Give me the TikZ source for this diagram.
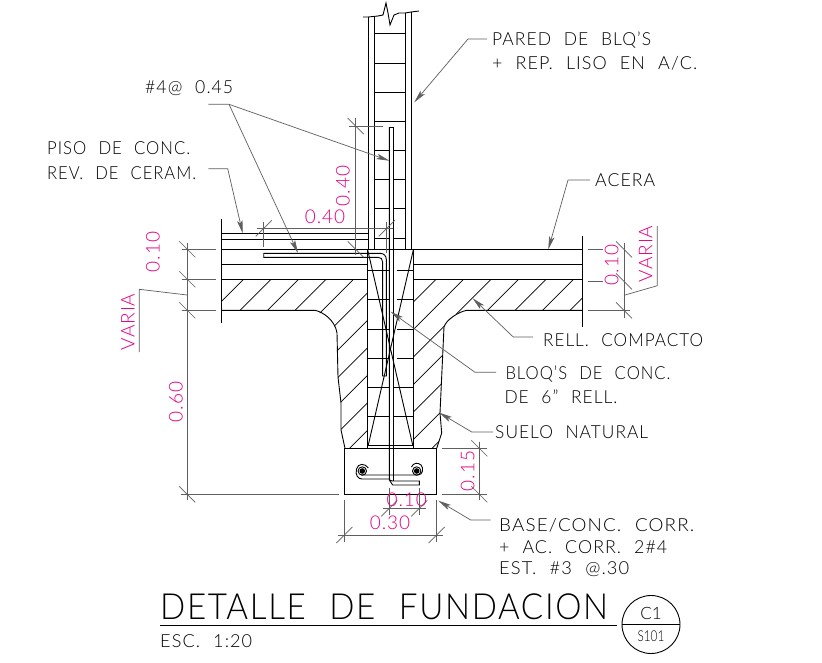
\documentclass[tikz,border=0pt]{standalone}
\usepackage{fontspec}
\usepackage{graphicx}
\setmainfont{Lato Light}[WordSpace=2.2]
\usetikzlibrary{arrows.meta}
\definecolor{pinkdim}{RGB}{230,0,126}
\definecolor{leadgray}{RGB}{95,95,95}
\newcommand{\ft}[2]{\resizebox{#1pt}{\height}{#2}}
\tikzset{
 obj/.style={line width=0.9pt,black},
 thin obj/.style={line width=0.7pt,black},
 dimline/.style={line width=0.7pt,leadgray},
 leader/.style={line width=0.7pt,leadgray,-{Stealth[length=13pt,width=5.5pt,inset=3pt]}},
 note/.style={anchor=west,inner sep=0pt,font=\fontsize{18}{18}\selectfont\addfontfeatures{LetterSpace=6},text=black},
 dimtext/.style={inner sep=0pt,font=\fontsize{19}{19}\selectfont\addfontfeatures{LetterSpace=5},text=pinkdim},
}
\newcommand{\tickback}[2]{\draw[dimline] (#1-8,#2-8) -- (#1+8,#2+8);}
\newcommand{\tickfwd}[2]{\draw[dimline] (#1-8,#2+8) -- (#1+8,#2-8);}
\begin{document}
\begin{tikzpicture}[x=1pt,y=-1pt]
\useasboundingbox (0,0) rectangle (822,662);
\fill[white] (0,0) rectangle (822,662);
% hatching
\begin{scope}
\clip (222,279.3) -- (367.3,279.3) -- (367.3,448.3) -- (345,448.3) -- (341,430) -- (341,403) -- (338,377) -- (337,333) -- (333,323) -- (323,315) -- (315,310.3) -- (222,310.3) -- cycle;
\foreach \s in {522.8,550.3,...,830} {\draw[thin obj] (\s-250,250) -- (\s-450,450);}
\end{scope}
\begin{scope}
\clip (413.3,279.3) -- (582.7,279.3) -- (582.7,310.3) -- (466.7,310.3) -- (453,315) -- (445,323) -- (444,327) -- (440,413) -- (441.7,433) -- (436.7,448.3) -- (413.3,448.3) -- cycle;
\foreach \s in {660.3,687.8,...,900} {\draw[thin obj] (\s-250,250) -- (\s-450,450);}
\end{scope}
% slab
\draw[obj] (221.7,219) -- (221.7,323);
\draw[obj] (582.7,236) -- (582.7,326.7);
\draw[obj] (221.7,233.3) -- (368.3,233.3);
\draw[obj] (221.7,239.3) -- (368.3,239.3);
\draw[obj] (221.7,249.3) -- (582.7,249.3);
\draw[obj] (221.7,264.3) -- (367.3,264.3);
\draw[obj] (413.3,264.3) -- (582.7,264.3);
\draw[obj] (221.7,279.3) -- (367.3,279.3);
\draw[obj] (413.3,279.3) -- (582.7,279.3);
% soil outlines
\draw[obj] (221.7,310.3) -- (315,310.3) .. controls (323,312) and (335,320) .. (337,333) -- (338,377) -- (341,403) -- (341,430) -- (345,448.3);
\draw[obj] (582.7,310.3) -- (466.7,310.3) .. controls (458,312) and (446,320) .. (444,327) -- (440,413) -- (441.7,433) -- (436.7,448.3);
% wall above
\draw[obj] (363,17) -- (368,17) -- (378,16) -- (383,15) -- (386,3) -- (388,13) -- (390,25) -- (394,15) -- (399,13) -- (405,13) -- (411,12) -- (419,11);
\draw[obj] (368.3,17) -- (368.3,249.3);
\draw[obj] (374.3,16) -- (374.3,249.3);
\draw[obj] (405.3,13) -- (405.3,249.3);
\draw[obj] (411.3,12) -- (411.3,249.3);
\foreach \y in {33,63,92,121} {\draw[obj] (374.3,\y) -- (405.3,\y);}
\foreach \y in {150,179,208,238} {\draw[obj] (374.3,\y) -- (389.3,\y); \draw[obj] (393.3,\y) -- (405.3,\y);}
% wall below
\draw[obj] (367.3,249.3) -- (367.3,448.3);
\draw[obj] (413.3,249.3) -- (413.3,448.3);
\foreach \y in {270.7,299.3,329.3,358.3} {\draw[obj] (367.3,\y) -- (389.3,\y); \draw[obj] (396.7,\y) -- (413.3,\y);}
\foreach \y in {387.3,416.7} {\draw[obj] (367.3,\y) -- (389.3,\y); \draw[obj] (393.3,\y) -- (413.3,\y);}
\draw[obj] (367.7,445) -- (413.3,445);
\draw[obj] (367.7,250) -- (412.7,445);
\draw[obj] (413.3,250) -- (368.3,445);
% footing
\draw[obj] (344.3,448.3) rectangle (436.7,494.3);
% vertical bars
\draw[obj] (389.3,127) -- (389.3,480) -- (392.7,481) -- (419.3,481) -- (419.3,485) -- (392.7,485) -- (389.3,480);
\draw[obj] (393.3,127) -- (393.3,481);
\draw[obj] (389.3,127) -- (393.3,127);
% L bar
\draw[obj] (263.7,253.3) -- (380,253.3) .. controls (384,253.3) and (386.4,256) .. (386.4,260) -- (386.4,376) -- (382.6,376) -- (382.6,262) .. controls (382.6,259) and (381,257.3) .. (378,257.3) -- (263.7,257.3) -- cycle;
% stirrup
\draw[obj] (368.3,468) .. controls (365,463) and (358,463) .. (356.5,469) .. controls (355,475) and (358,479) .. (362,479) -- (389,479);
\draw[obj] (361,475) -- (418,475) .. controls (423,475) and (424,468) .. (421,465) .. controls (418,462) and (413,463) .. (411.5,467);
\draw[obj] (362.3,471) circle (4.2);
\draw[obj] (416.7,471) circle (4.2);
\fill (362.3,471) circle (2.8);
\fill (416.7,471) circle (2.8);
% dimensions left
\draw[dimline] (187.3,243) -- (187.3,500);
\draw[dimline] (181.7,249.3) -- (216,249.3);
\draw[dimline] (181.7,279.3) -- (216,279.3);
\draw[dimline] (181.7,310.3) -- (216,310.3);
\draw[dimline] (181,494.3) -- (339,494.3);
\tickback{187.3}{249.3}\tickback{187.3}{279.3}\tickback{187.3}{310.3}\tickback{187.3}{494.3}
\draw[dimline] (187.3,295) -- (139.3,289.3) -- (139.3,352);
\node[dimtext,rotate=90] (d1) at (153,252) {0.10};
\node[dimtext,rotate=90] (d2) at (176,402) {0.60};
\node[dimtext,rotate=90] (d3) at (128,322) {VARIA};
% 0.40 horizontal
\draw[dimline] (257,228.3) -- (393,228.3);
\draw[dimline] (263.7,222) -- (263.7,247);
\draw[dimline] (386.7,222) -- (386.7,253);
\tickfwd{263.7}{228.3}\tickfwd{386.7}{228.3}
\node[dimtext] (d4) at (325,217) {0.40};
% 0.40 vertical
\draw[dimline] (355.7,118) -- (355.7,255);
\draw[dimline] (349,126) -- (383,126);
\tickback{355.7}{126}\tickback{355.7}{249.3}
\node[dimtext,rotate=90] (d5) at (343,186) {0.40};
% right
\draw[dimline] (624,243) -- (624,318);
\draw[dimline] (588,249.3) -- (603,249.3);
\draw[dimline] (588,281.3) -- (603,281.3);
\draw[dimline] (588,310.3) -- (630,310.3);
\tickback{624}{249.3}\tickback{624}{281.3}\tickback{624}{310.3}
\draw[dimline] (624,295.3) -- (657.3,285.7) -- (657.3,226);
\node[dimtext,rotate=90] (d6) at (611.7,265) {0.10};
\node[dimtext,rotate=90] (d7) at (645.7,254) {VARIA};
% bottom
\draw[dimline] (338,535) -- (443,535);
\draw[dimline] (344.3,500) -- (344.3,541.7);
\draw[dimline] (436.7,500) -- (436.7,541.7);
\tickfwd{344.3}{535}\tickfwd{436.7}{535}
\node[dimtext] (d8) at (390,523) {0.30};
\draw[dimline] (383.3,508.3) -- (426,508.3);
\draw[dimline] (389.3,488) -- (389.3,515);
\draw[dimline] (419.3,488) -- (419.3,515);
\tickfwd{389.3}{508.3}\tickfwd{419.3}{508.3}
\node[dimtext] (d9) at (406.7,500) {0.10};
\draw[dimline] (479.3,441.7) -- (479.3,500);
\draw[dimline] (442.3,448.3) -- (486.7,448.3);
\draw[dimline] (442.3,494.3) -- (486.7,494.3);
\tickback{479.3}{448.3}\tickback{479.3}{494.3}
\node[dimtext,rotate=90] (d10) at (467.7,471) {0.15};
% notes
\node[note] (n1) at (492,40) {\ft{159}{PARED DE BLQ'S}};
\node[note] (n2) at (492,63) {\ft{205}{+ REP. LISO EN A/C.}};
\node[note] (n3) at (145,88) {\ft{88}{\#4@ 0.45}};
\node[note] (n4) at (47,148) {\ft{143}{PISO DE CONC.}};
\node[note] (n5) at (47,173) {\ft{149}{REV. DE CERAM.}};
\node[note] (n6) at (595,180) {\ft{60}{ACERA}};
\node[note] (n7) at (543,340) {\ft{160}{RELL. COMPACTO}};
\node[note] (n8) at (505.3,374) {\ft{165}{BLOQ'S DE CONC.}};
\node[note] (n9) at (504.3,397) {\ft{113}{DE 6" RELL.}};
\node[note] (n10) at (495,432) {\ft{153}{SUELO NATURAL}};
\node[note] (n11) at (499,525) {\ft{195}{BASE/CONC. CORR.}};
\node[note] (n12) at (499,547) {\ft{168}{+ AC. CORR. 2\#4}};
\node[note] (n13) at (499,569) {\ft{130}{EST. \#3 @.30}};
% leaders
\coordinate (t1) at (414.3,102.3);
\coordinate (t2) at (389.3,160.7);
\coordinate (t3) at (298,253);
\coordinate (t4) at (242.7,233.3);
\coordinate (t5) at (548.3,249.3);
\coordinate (t6) at (472.7,298.3);
\coordinate (t7) at (390.7,311.7);
\coordinate (t8) at (439.3,412.7);
\coordinate (t9) at (438.3,500.7);
\draw[leader] (487,39) -- (468,39) -- (t1);
\draw[leader] (208.3,104.3) -- (229,104.3) -- (t2);
\draw[leader] (229,104.3) -- (t3);
\draw[leader] (208.3,168.7) -- (227.7,168.7) -- (t4);
\draw[leader] (590,180) -- (568,180) -- (t5);
\draw[leader] (533,337) -- (513.3,337) -- (t6);
\draw[leader] (496,372.3) -- (475,372.3) -- (t7);
\draw[leader] (493,432) -- (471.7,432) -- (t8);
\draw[leader] (490.7,520) -- (470.7,520) -- (t9);
% title
\node[anchor=west,inner sep=0pt,font=\fontsize{36}{36}\selectfont\addfontfeatures{LetterSpace=5}] (title) at (160,607) {\ft{448}{DETALLE DE FUNDACION}};
\draw[obj] (160,625) -- (617,625);
\node[note] (esc) at (160,641) {\ft{92}{ESC. 1:20}};
\node[draw,circle,line width=0.9pt,minimum size=58pt,inner sep=0pt] (circ) at (651,624.5) {};
\draw[obj] (circ.west) -- (circ.east);
\node[inner sep=0pt,font=\fontsize{17}{17}\selectfont] (c1) at (651,613) {C1};
\node[inner sep=0pt,font=\fontsize{15}{15}\selectfont] (s1) at (651,636) {\scalebox{0.78}[1]{S101}};
\end{tikzpicture}
\end{document}
